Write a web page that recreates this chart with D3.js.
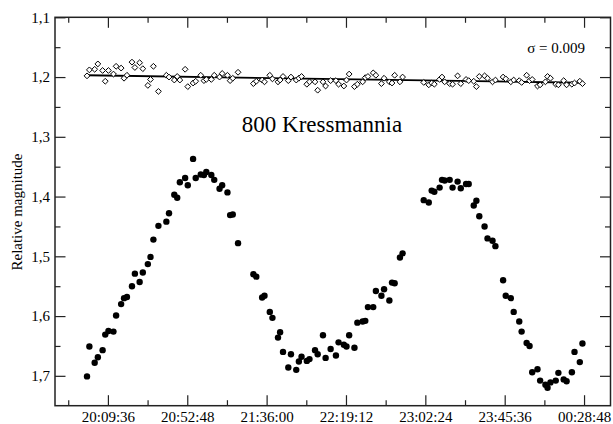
<!DOCTYPE html>
<html>
<head>
<meta charset="utf-8">
<script src="https://cdn.jsdelivr.net/npm/d3@7"></script>
<style>
  html, body { margin: 0; padding: 0; background: #fff; }
  svg { display: block; }
  text { font-family: "Liberation Serif", "Times New Roman", serif; fill: #000; }
</style>
</head>
<body>
<svg id="chart" width="613" height="424"></svg>
<script>
// Observation times (fraction of day; >1 means after midnight)
const times = [0.8321,0.8330,0.8350,0.8362,0.8380,0.8390,0.8402,0.8421,0.8431,0.8450,
0.8461,0.8472,0.8491,0.8502,0.8520,0.8532,0.8551,0.8561,0.8572,0.8591,
0.8621,0.8631,0.8651,0.8662,0.8672,0.8692,0.8702,0.8722,0.8732,0.8751,
0.8763,0.8772,0.8791,0.8802,0.8822,0.8832,0.8852,0.8862,0.8872,0.8892,
0.8950,0.8961,0.8983,0.8992,0.9012,0.9022,0.9043,0.9051,0.9062,0.9082,
0.9092,0.9112,0.9122,0.9132,0.9152,0.9162,0.9183,0.9193,0.9213,0.9223,
0.9242,0.9262,0.9272,0.9292,0.9302,0.9312,0.9332,0.9343,0.9363,0.9373,
0.9383,0.9403,0.9413,0.9434,0.9444,0.9464,0.9474,0.9484,0.9504,0.9514,
0.9594,0.9613,0.9624,0.9634,0.9654,0.9663,0.9673,0.9692,0.9703,0.9722,
0.9734,0.9754,0.9764,0.9783,0.9793,0.9804,0.9824,0.9835,0.9854,0.9865,
0.9894,0.9904,0.9923,0.9934,0.9955,0.9964,0.9983,0.9994,1.0004,1.0024,
1.0034,1.0054,1.0062,1.0073,1.0093,1.0103,1.0123,1.0134,1.0154,1.0164,
1.0184,1.0194];

// Asteroid relative magnitude (filled circles)
const asteroidMag = [1.701,1.651,1.678,1.669,1.657,1.631,1.625,1.626,1.599,1.580,
1.570,1.568,1.550,1.529,1.543,1.527,1.513,1.501,1.472,1.449,
1.442,1.428,1.397,1.402,1.376,1.369,1.381,1.337,1.369,1.363,
1.364,1.359,1.364,1.372,1.387,1.381,1.393,1.431,1.430,1.478,
1.530,1.534,1.569,1.566,1.593,1.603,1.636,1.627,1.660,1.686,
1.664,1.690,1.676,1.668,1.675,1.672,1.657,1.664,1.632,1.670,
1.655,1.666,1.644,1.648,1.651,1.632,1.653,1.611,1.609,1.608,
1.585,1.585,1.558,1.566,1.555,1.574,1.544,1.545,1.502,1.495,
1.406,1.410,1.390,1.392,1.385,1.372,1.373,1.372,1.385,1.375,
1.386,1.379,1.379,1.415,1.407,1.433,1.450,1.470,1.474,1.483,
1.540,1.566,1.570,1.593,1.609,1.626,1.645,1.650,1.694,1.689,
1.708,1.715,1.720,1.711,1.708,1.695,1.706,1.709,1.694,1.660,
1.677,1.646];

// Comparison star relative magnitude (open diamonds)
const comparisonMag = [1.198,1.188,1.187,1.178,1.189,1.207,1.189,1.195,1.182,1.185,
1.202,1.197,1.175,1.184,1.176,1.186,1.214,1.204,1.182,1.224,
1.197,1.200,1.205,1.199,1.205,1.187,1.216,1.210,1.207,1.197,
1.206,1.204,1.204,1.197,1.200,1.194,1.197,1.206,1.202,1.192,
1.211,1.207,1.205,1.208,1.197,1.203,1.208,1.205,1.199,1.206,
1.200,1.205,1.202,1.199,1.212,1.208,1.208,1.222,1.208,1.215,
1.206,1.206,1.212,1.215,1.205,1.195,1.216,1.212,1.208,1.201,
1.199,1.193,1.197,1.211,1.202,1.208,1.210,1.197,1.208,1.200,
1.209,1.213,1.210,1.212,1.204,1.200,1.208,1.211,1.212,1.198,
1.211,1.204,1.206,1.207,1.216,1.199,1.198,1.202,1.208,1.205,
1.200,1.203,1.208,1.205,1.206,1.209,1.197,1.206,1.204,1.215,
1.213,1.208,1.199,1.202,1.212,1.213,1.206,1.213,1.212,1.210,
1.207,1.211];

// Linear fit through the comparison star (end points)
const fitTimes = [0.8321, 1.0194];
const fitMags = [1.197, 1.2095];

// Axis ticks
const xTickValues = [0.84, 0.87, 0.90, 0.93, 0.96, 0.99, 1.02];
const xTickLabels = ["20:09:36", "20:52:48", "21:36:00", "22:19:12", "23:02:24", "23:45:36", "00:28:48"];
const xMinorTicks = [0.825, 0.855, 0.885, 0.915, 0.945, 0.975, 1.005];
const yTickValues = [1.1, 1.2, 1.3, 1.4, 1.5, 1.6, 1.7];
const yTickLabels = ["1,1", "1,2", "1,3", "1,4", "1,5", "1,6", "1,7"];
const yMinorTicks = [1.15, 1.25, 1.35, 1.45, 1.55, 1.65];

const titleText = "800 Kressmannia";
const sigmaText = "\u03C3 = 0.009";
const yLabelText = "Relative magnitude";

// ---- drawing ----
const svg = d3.select("#chart");
const L = 55, R = 610.5, T = 17.3, B = 405.7;

const x = d3.scaleLinear().domain([0.82, 1.03]).range([L, R]);
const y = d3.scaleLinear().domain([1.1, 1.75]).range([T, B]);

const axisColor = "#222";
const majorLen = 10.5, minorLen = 5.5;

function styleAxis(g) {
  g.select(".domain").remove();
  g.selectAll(".tick line").attr("stroke", axisColor).attr("stroke-width", 1.2);
}

// bottom
svg.append("g").attr("transform", `translate(0,${B})`)
  .call(d3.axisBottom(x).tickValues(xTickValues).tickSize(-majorLen).tickPadding(6)
    .tickFormat((d, i) => xTickLabels[i]))
  .call(styleAxis)
  .call(g => g.selectAll("text").attr("font-size", 15).attr("font-family", "Liberation Serif").attr("fill", "#000"));
svg.append("g").attr("transform", `translate(0,${B})`)
  .call(d3.axisBottom(x).tickValues(xMinorTicks).tickSize(-minorLen).tickFormat(""))
  .call(styleAxis);
// top
svg.append("g").attr("transform", `translate(0,${T})`)
  .call(d3.axisTop(x).tickValues(xTickValues).tickSize(-majorLen).tickFormat(""))
  .call(styleAxis);
svg.append("g").attr("transform", `translate(0,${T})`)
  .call(d3.axisTop(x).tickValues(xMinorTicks).tickSize(-minorLen).tickFormat(""))
  .call(styleAxis);
// left
svg.append("g").attr("transform", `translate(${L},0)`)
  .call(d3.axisLeft(y).tickValues(yTickValues).tickSize(-majorLen).tickPadding(5)
    .tickFormat((d, i) => yTickLabels[i]))
  .call(styleAxis)
  .call(g => g.selectAll("text").attr("font-size", 15).attr("font-family", "Liberation Serif").attr("fill", "#000"));
svg.append("g").attr("transform", `translate(${L},0)`)
  .call(d3.axisLeft(y).tickValues(yMinorTicks).tickSize(-minorLen).tickFormat(""))
  .call(styleAxis);
// right
svg.append("g").attr("transform", `translate(${R},0)`)
  .call(d3.axisRight(y).tickValues(yTickValues).tickSize(-majorLen).tickFormat(""))
  .call(styleAxis);
svg.append("g").attr("transform", `translate(${R},0)`)
  .call(d3.axisRight(y).tickValues(yMinorTicks).tickSize(-minorLen).tickFormat(""))
  .call(styleAxis);

// frame
svg.append("rect").attr("x", L).attr("y", T).attr("width", R - L).attr("height", B - T)
  .attr("fill", "none").attr("stroke", axisColor).attr("stroke-width", 1.5);

// fit line
svg.append("line")
  .attr("x1", x(fitTimes[0])).attr("y1", y(fitMags[0]))
  .attr("x2", x(fitTimes[1])).attr("y2", y(fitMags[1]))
  .attr("stroke", "#000").attr("stroke-width", 1.8);

// comparison star diamonds
const h = 2.9;
svg.append("g").selectAll("path").data(times).join("path")
  .attr("d", `M0,${-h}L${h},0L0,${h}L${-h},0Z`)
  .attr("transform", (d, i) => `translate(${x(d)},${y(comparisonMag[i])})`)
  .attr("fill", "#fff").attr("stroke", "#000").attr("stroke-width", 1);

// asteroid points
svg.append("g").selectAll("circle").data(times).join("circle")
  .attr("cx", d => x(d)).attr("cy", (d, i) => y(asteroidMag[i]))
  .attr("r", 3.2).attr("fill", "#000");

// texts
svg.append("text").attr("x", 322).attr("y", 132).attr("text-anchor", "middle")
  .attr("font-size", 23).text(titleText);
svg.append("text").attr("x", 585).attr("y", 52.5).attr("text-anchor", "end")
  .attr("font-size", 15).text(sigmaText);
svg.append("text").attr("transform", "translate(22,212) rotate(-90)").attr("text-anchor", "middle")
  .attr("font-size", 15).text(yLabelText);
</script>
</body>
</html>
